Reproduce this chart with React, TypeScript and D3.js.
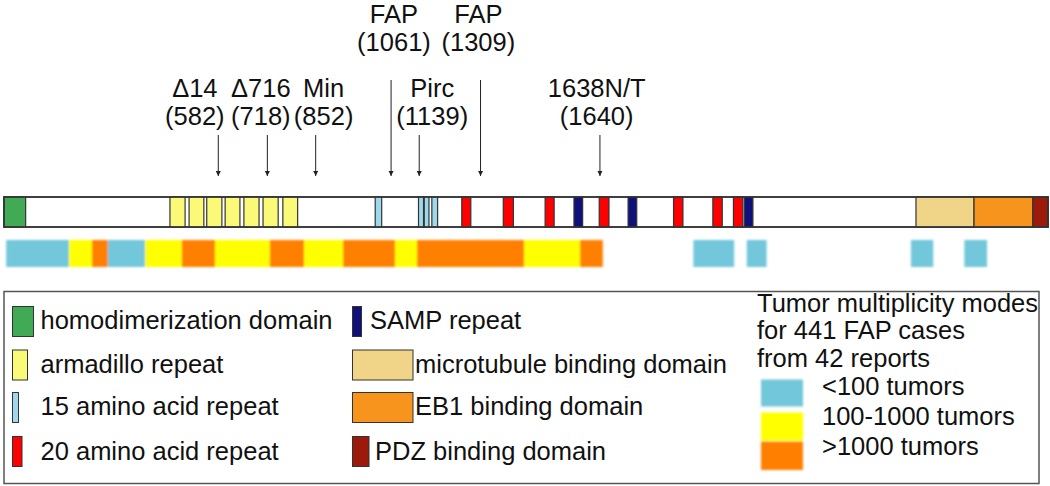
import React from "react";
import * as d3 from "d3";

// ---- data (amino-acid positions) ----
const proteinExtent: [number, number] = [-12, 2882];

const homodimerization: [number, number][] = [[-12, 48]];
const armadillo: [number, number][] = [
  [448, 490], [501, 542], [550, 592], [601, 642], [653, 695], [706, 748], [761, 802],
];
const aa15: [number, number][] = [[1017, 1035], [1137, 1151], [1153, 1166], [1174, 1190]];
const aa20: [number, number][] = [
  [1257, 1282], [1372, 1400], [1488, 1513], [1638, 1665], [1844, 1870], [1953, 1979], [2010, 2036],
];
const samp: [number, number][] = [[1568, 1592], [1718, 1742], [2040, 2064]];
const microtubule: [number, number][] = [[2516, 2677]];
const eb1: [number, number][] = [[2677, 2840]];
const pdz: [number, number][] = [[2840, 2882]];

const tumorModes = ["<100 tumors", "100-1000 tumors", ">1000 tumors"];
const mutationStarts = [-6, 168, 232, 276, 379, 481, 573, 725, 820, 928, 1072, 1133, 1430, 1585, 1899, 2047, 2502, 2650];
const mutationEnds = [168, 232, 276, 379, 481, 573, 725, 820, 928, 1072, 1133, 1430, 1585, 1648, 2012, 2102, 2564, 2713];
const mutationModes = [0, 1, 2, 0, 1, 2, 1, 2, 1, 2, 1, 2, 1, 2, 0, 0, 0, 0];

const siteNames = ["\u039414", "\u0394716", "Min", "FAP", "Pirc", "FAP", "1638N/T"];
const sitePositions = [582, 718, 852, 1061, 1139, 1309, 1640];
const siteLabelCenters = [517, 700, 874, 1069, 1175, 1303, 1631];
const siteTall = [false, false, false, true, false, true, false];

const legendDomainNames = [
  "homodimerization domain", "armadillo repeat", "15 amino acid repeat", "20 amino acid repeat",
  "SAMP repeat", "microtubule binding domain", "EB1 binding domain", "PDZ binding domain",
];
const legendTitle = ["Tumor multiplicity modes", "for 441 FAP cases", "from 42 reports"];

// ---- styles ----
const C = {
  green: "#41AA55",
  yellow: "#FAFA78",
  blue15: "#9DD8EC",
  red: "#FF0000",
  navy: "#10107A",
  tan: "#F0D488",
  eb1: "#F7941D",
  pdz: "#9B1A0C",
};
const modeColors = ["#72C8DA", "#FFFF00", "#FF8000"];
const FONT = "'Liberation Sans', Arial, Helvetica, sans-serif";
const FS = 25.5;

export default function App() {
  const x = d3.scaleLinear().domain(proteinExtent).range([4, 1048]);
  const barY = 197, barH = 30;
  const mutY = 240, mutH = 27;

  const boxes = (arr: [number, number][], fill: string, key: string, sw = 1.2) =>
    arr.map((d, i) => (
      <rect key={key + i} x={x(d[0])} y={barY} width={x(d[1]) - x(d[0])} height={barH}
        fill={fill} stroke="#333" strokeWidth={sw} />
    ));

  const legendLeft = [
    { fill: C.green, w: 21, tx: 40.5 },
    { fill: C.yellow, w: 15, tx: 40.5 },
    { fill: C.blue15, w: 6, tx: 40.5 },
    { fill: C.red, w: 9.5, tx: 40.5 },
    { fill: C.navy, w: 9, tx: 370 },
    { fill: C.tan, w: 60.5, tx: 415 },
    { fill: C.eb1, w: 60.5, tx: 415 },
    { fill: C.pdz, w: 16.5, tx: 375 },
  ];
  const rowY = [306.5, 350, 392.5, 436.5];
  const rowBase = [329, 372.5, 415, 459.5];

  return (
    <svg width={1050} height={486} style={{ position: "absolute", left: 0, top: 0, background: "#fff" }}
      fontFamily={FONT}>
      <defs>
        <filter id="soft" x="-5%" y="-20%" width="110%" height="140%">
          <feGaussianBlur stdDeviation="0.8" />
        </filter>
        <marker id="arrow" viewBox="0 0 10 10" refX="10" refY="5" markerWidth="5" markerHeight="6"
          orient="auto" markerUnits="userSpaceOnUse">
          <path d="M0,0 L10,5 L0,10 z" fill="#222" />
        </marker>
      </defs>

      {/* site labels and arrows */}
      {siteNames.map((n, i) => {
        const cx = x(siteLabelCenters[i]);
        const y1 = siteTall[i] ? 23 : 97;
        return (
          <g key={"site" + i}>
            <text x={cx} y={y1} textAnchor="middle" fontSize={FS} fill="#111">{n}</text>
            <text x={cx} y={y1 + 27.5} textAnchor="middle" fontSize={FS} fill="#111">({sitePositions[i]})</text>
            <line x1={x(sitePositions[i])} x2={x(sitePositions[i])} y1={siteTall[i] ? 80 : 135} y2={176}
              stroke="#222" strokeWidth={1} markerEnd="url(#arrow)" />
          </g>
        );
      })}

      {/* protein bar */}
      <rect x={x(proteinExtent[0])} y={barY} width={x(proteinExtent[1]) - x(proteinExtent[0])} height={barH}
        fill="#fff" stroke="#333" strokeWidth={1.5} />
      {boxes(homodimerization, C.green, "h")}
      {boxes(armadillo, C.yellow, "a")}
      {boxes(aa15, C.blue15, "b")}
      {boxes(aa20, C.red, "r")}
      {boxes(samp, C.navy, "s")}
      {boxes(microtubule, C.tan, "m")}
      {boxes(eb1, C.eb1, "e")}
      {boxes(pdz, C.pdz, "p")}
      <rect x={x(proteinExtent[0])} y={barY} width={x(proteinExtent[1]) - x(proteinExtent[0])} height={barH}
        fill="none" stroke="#333" strokeWidth={1.5} />

      {/* tumor multiplicity bar */}
      <g filter="url(#soft)">
        {mutationStarts.map((s, i) => (
          <rect key={"mut" + i} x={x(s)} y={mutY} width={x(mutationEnds[i]) - x(s)} height={mutH}
            fill={modeColors[mutationModes[i]]} />
        ))}
      </g>

      {/* legend */}
      <rect x={4} y={291.5} width={1035} height={192} fill="none" stroke="#555" strokeWidth={1.5} />
      {legendDomainNames.map((n, i) => {
        const col = i < 4 ? 0 : 1;
        const r = i % 4;
        const sx = col === 0 ? 12.5 : 352.5;
        const it = legendLeft[i];
        return (
          <g key={"lg" + i}>
            <rect x={sx} y={rowY[r]} width={it.w} height={30} fill={it.fill} stroke="#333" strokeWidth={1} />
            <text x={it.tx} y={rowBase[r]} fontSize={FS} fill="#111">{n}</text>
          </g>
        );
      })}
      {legendTitle.map((t, i) => (
        <text key={"lt" + i} x={757} y={311.5 + i * 27.5} fontSize={FS} fill="#111">{t}</text>
      ))}
      <g filter="url(#soft)">
        {tumorModes.map((t, i) => (
          <rect key={"ms" + i} x={761} y={[379.5, 412.5, 441.5][i]} width={42} height={[27, 28, 28.5][i]}
            fill={modeColors[i]} />
        ))}
      </g>
      {tumorModes.map((t, i) => (
        <text key={"mt" + i} x={822} y={395 + i * 30} fontSize={FS} fill="#111">{t}</text>
      ))}
    </svg>
  );
}
